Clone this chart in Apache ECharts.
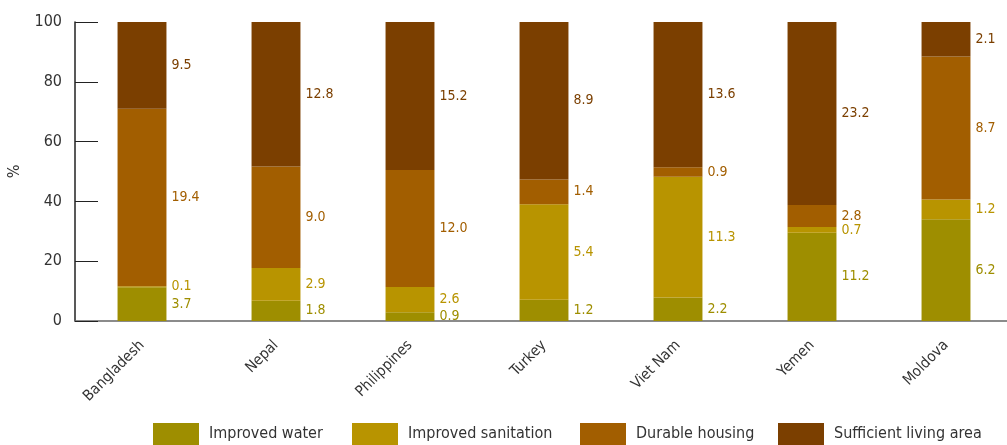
<!DOCTYPE html>
<html><head><meta charset="utf-8">
<script src="https://cdn.jsdelivr.net/npm/echarts@6/dist/echarts.min.js"></script>
<style>html,body{margin:0;padding:0;background:#fff}#c{width:1007px;height:445px}</style>
</head><body><div id="c"></div>
<script>
const categories = ['Bangladesh','Nepal','Philippines','Turkey','Viet Nam','Yemen','Moldova'];
const improvedWater = [3.7, 1.8, 0.9, 1.2, 2.2, 11.2, 6.2];
const improvedSanitation = [0.1, 2.9, 2.6, 5.4, 11.3, 0.7, 1.2];
const durableHousing = [19.4, 9.0, 12.0, 1.4, 0.9, 2.8, 8.7];
const sufficientLivingArea = [9.5, 12.8, 15.2, 8.9, 13.6, 23.2, 2.1];
const seriesNames = ['Improved water','Improved sanitation','Durable housing','Sufficient living area'];
const colors = ['#9e8e00','#b89400','#a25e00','#7b3f00'];
const yTicks = [0,20,40,60,80,100];

const raw = [improvedWater, improvedSanitation, durableHousing, sufficientLivingArea];
const totals = categories.map((_, i) => raw.reduce((s, arr) => s + arr[i], 0));
const FONT = '"DejaVu Sans Condensed","Roboto",sans-serif';
const legendLefts = [153, 352, 580, 778];

const series = raw.map((arr, k) => ({
  name: seriesNames[k],
  type: 'bar',
  stack: 'total',
  barWidth: '36.5%',
  itemStyle: { color: colors[k] },
  data: arr.map((v, i) => ({ value: v / totals[i] * 100, raw: v })),
  label: {
    show: true,
    position: 'right',
    distance: 5,
    color: colors[k],
    fontFamily: FONT,
    fontSize: 14,
    formatter: p => p.data.raw.toFixed(1)
  },
  labelLayout: { moveOverlap: 'shiftY' }
}));

const legends = seriesNames.map((n, k) => ({
  bottom: 0, left: legendLefts[k], padding: 0,
  itemWidth: 46, itemHeight: 22, itemGap: 0,
  icon: 'rect',
  textStyle: { fontFamily: FONT, fontSize: 16, color: '#333', padding: [0, 0, 0, 5] },
  data: [n]
}));

const chart = echarts.init(document.getElementById('c'), null, { renderer: 'canvas' });
chart.setOption({
  animation: false,
  textStyle: { fontFamily: FONT },
  grid: { left: 75, right: -6, top: 22, bottom: 124, containLabel: false, outerBoundsMode: 'none' },
  legend: legends,
  xAxis: {
    type: 'category',
    data: categories,
    axisLine: { lineStyle: { color: '#666', width: 1.5 } },
    axisTick: { inside: true, length: 5, lineStyle: { color: '#333' } },
    axisLabel: { rotate: 45, fontSize: 15, color: '#333', margin: 22, fontFamily: FONT }
  },
  yAxis: {
    type: 'value',
    min: 0, max: 100, interval: 20,
    name: '%',
    nameLocation: 'middle',
    nameRotate: 90,
    nameGap: 52,
    nameTextStyle: { fontSize: 16, color: '#333', fontFamily: FONT },
    axisLine: { show: true, lineStyle: { color: '#222', width: 1.5 } },
    axisTick: { show: true, inside: true, length: 23, lineStyle: { color: '#222' } },
    splitLine: { show: false },
    axisLabel: { fontSize: 16, color: '#333', margin: 13, fontFamily: FONT,
      formatter: v => yTicks.includes(v) ? String(v) : '' }
  },
  series
});
</script></body></html>
